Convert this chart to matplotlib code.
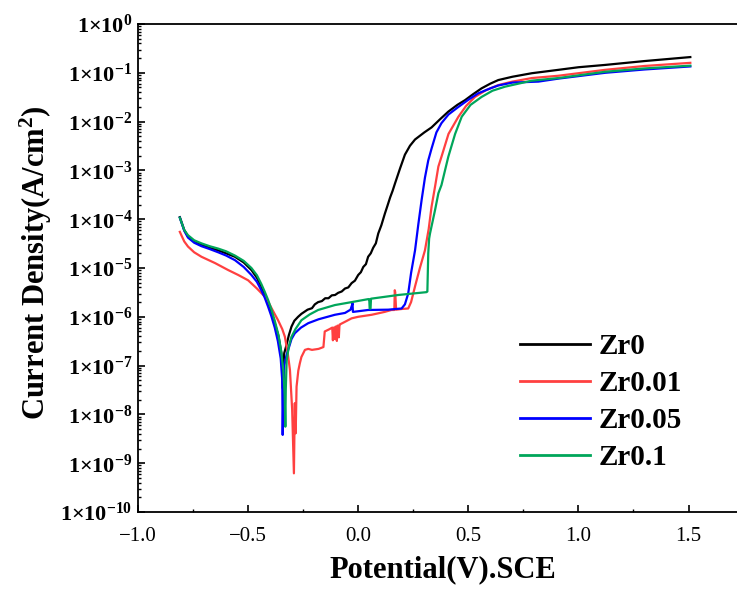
import matplotlib
matplotlib.use("Agg")
import math
import matplotlib.pyplot as plt
from matplotlib.ticker import MultipleLocator, LogLocator, FuncFormatter, NullFormatter

# ---------------- data (potential V vs SCE, current density A/cm^2) ----------------
series_names = ["Zr0", "Zr0.01", "Zr0.05", "Zr0.1"]
series_colors = ["#000000", "#FF4040", "#0000FF", "#00A65A"]

zr0_E = [-0.810, -0.790, -0.773, -0.745, -0.712, -0.675, -0.636, -0.600, -0.560, -0.520,
         -0.485, -0.460, -0.440, -0.425, -0.409, -0.395, -0.379, -0.362, -0.349, -0.345,
         -0.342, -0.340, -0.336, -0.326, -0.315, -0.303, -0.290, -0.273, -0.258, -0.230,
         -0.210, -0.197, -0.182, -0.165, -0.150, -0.135, -0.120, -0.105, -0.091, -0.075,
         -0.060, -0.045, -0.030, -0.015, 0.000, 0.012, 0.023, 0.035, 0.045, 0.057, 0.068,
         0.080, 0.091, 0.105, 0.121, 0.133, 0.145, 0.156, 0.167, 0.190, 0.212, 0.235, 0.258,
         0.300, 0.333, 0.370, 0.409, 0.450, 0.485, 0.520, 0.560, 0.600, 0.636, 0.700, 0.788,
         0.909, 1.000, 1.121, 1.300, 1.508]
zr0_i = [1.1e-4, 6.0e-5, 4.4e-5, 3.5e-5, 3.0e-5, 2.6e-5, 2.3e-5, 2.0e-5, 1.7e-5, 1.3e-5,
         9.1e-6, 6.3e-6, 4.2e-6, 2.8e-6, 1.9e-6, 1.26e-6, 7.4e-7, 4.0e-7, 1.8e-7, 7.9e-8,
         3.4e-8, 1.0e-7, 1.8e-7, 2.6e-7, 4.2e-7, 6.3e-7, 8.3e-7, 1.0e-6, 1.15e-6, 1.4e-6,
         1.5e-6, 1.8e-6, 2.0e-6, 2.1e-6, 2.4e-6, 2.4e-6, 2.75e-6, 2.8e-6, 3.1e-6, 3.3e-6,
         3.8e-6, 4.0e-6, 4.9e-6, 5.5e-6, 7.2e-6, 8.2e-6, 1.05e-5, 1.2e-5, 1.7e-5, 2.0e-5, 2.6e-5,
         3.2e-5, 5.1e-5, 7.5e-5, 1.3e-4, 1.9e-4, 2.8e-4, 3.8e-4, 5.4e-4, 1.1e-3, 2.1e-3, 3.2e-3, 4.3e-3,
         6.0e-3, 7.6e-3, 1.1e-2, 1.6e-2, 2.2e-2, 2.75e-2, 3.6e-2, 4.8e-2, 6.0e-2, 7.1e-2, 8.3e-2, 9.8e-2,
         1.15e-1, 1.3e-1, 1.45e-1, 1.74e-1, 2.1e-1]

zr001_E = [-0.810, -0.790, -0.773, -0.745, -0.712, -0.650, -0.591, -0.545, -0.500, -0.460,
           -0.417, -0.390, -0.364, -0.345, -0.333, -0.320, -0.310, -0.300, -0.292, -0.288,
           -0.284, -0.280, -0.272, -0.265, -0.258, -0.242, -0.227, -0.210, -0.180, -0.158,
           -0.152, -0.130, -0.118, -0.115, -0.112, -0.106, -0.103, -0.097, -0.094, -0.088,
           -0.085, -0.080, -0.060, -0.030, 0.000, 0.061, 0.120, 0.151, 0.164, 0.166, 0.168,
           0.172, 0.200, 0.227, 0.240, 0.258, 0.280, 0.303, 0.320, 0.333, 0.350, 0.364, 0.378,
           0.410, 0.455, 0.490, 0.530, 0.580, 0.636, 0.700, 0.788, 0.909, 1.121, 1.300, 1.508]
zr001_i = [5.5e-5, 3.5e-5, 2.75e-5, 2.1e-5, 1.7e-5, 1.26e-5, 9.1e-6, 7.2e-6, 5.6e-6, 3.8e-6,
           2.4e-6, 1.4e-6, 8.5e-7, 5.6e-7, 3.9e-7, 1.8e-7, 8.1e-8, 1.26e-8, 6.2e-10, 1.7e-8,
           4.1e-9, 3.7e-8, 7.9e-8, 1.12e-7, 1.5e-7, 2.1e-7, 2.2e-7, 2.1e-7, 2.2e-7, 2.4e-7,
           5.0e-7, 5.6e-7, 6.0e-7, 3.3e-7, 6.0e-7, 3.5e-7, 6.3e-7, 3.2e-7, 6.6e-7, 3.8e-7,
           6.9e-7, 7.1e-7, 7.9e-7, 9.3e-7, 1.0e-6, 1.1e-6, 1.26e-6, 1.38e-6, 1.38e-6, 3.5e-6, 3.2e-6,
           1.4e-6, 1.45e-6, 1.48e-6, 2.0e-6, 4.2e-6, 1.0e-5, 2.3e-5, 6.3e-5, 1.8e-4, 5.0e-4, 1.2e-3, 1.9e-3,
           5.6e-3, 1.26e-2, 2.1e-2, 3.2e-2, 4.4e-2, 5.6e-2, 6.6e-2, 7.8e-2, 8.7e-2, 1.15e-1, 1.38e-1, 1.6e-1]

zr005_E = [-0.810, -0.790, -0.773, -0.745, -0.712, -0.675, -0.636, -0.600, -0.560, -0.520,
           -0.485, -0.460, -0.440, -0.425, -0.409, -0.395, -0.379, -0.365, -0.352, -0.345,
           -0.343, -0.340, -0.336, -0.326, -0.318, -0.303, -0.288, -0.260, -0.227, -0.180,
           -0.106, -0.060, -0.035, -0.028, -0.026, -0.024, 0.000, 0.045, 0.136, 0.197, 0.212,
           0.227, 0.240, 0.258, 0.273, 0.288, 0.303, 0.318, 0.333, 0.355, 0.378, 0.410, 0.455,
           0.500, 0.545, 0.600, 0.636, 0.700, 0.818, 0.909, 1.121, 1.300, 1.508]
zr005_i = [1.07e-4, 5.8e-5, 4.2e-5, 3.3e-5, 2.8e-5, 2.45e-5, 2.1e-5, 1.8e-5, 1.45e-5, 1.05e-5,
           7.2e-6, 5.2e-6, 3.5e-6, 2.5e-6, 1.6e-6, 1.05e-6, 6.0e-7, 3.2e-7, 1.4e-7, 5.0e-8,
           3.8e-9, 2.5e-8, 1.0e-7, 1.6e-7, 2.1e-7, 3.5e-7, 4.6e-7, 6.0e-7, 7.4e-7, 8.9e-7,
           1.1e-6, 1.2e-6, 1.4e-6, 1.74e-6, 1.9e-6, 1.26e-6, 1.3e-6, 1.38e-6, 1.4e-6, 1.48e-6, 1.8e-6,
           3.0e-6, 7.9e-6, 2.3e-5, 7.9e-5, 2.5e-4, 7.1e-4, 1.6e-3, 2.8e-3, 6.0e-3, 9.3e-3, 1.4e-2, 2.0e-2,
           2.8e-2, 3.8e-2, 4.8e-2, 5.5e-2, 6.3e-2, 6.6e-2, 7.6e-2, 1.0e-1, 1.17e-1, 1.35e-1]

zr01_E = [-0.810, -0.790, -0.773, -0.745, -0.712, -0.675, -0.636, -0.600, -0.560, -0.520,
          -0.485, -0.460, -0.440, -0.425, -0.409, -0.395, -0.379, -0.362, -0.350, -0.340,
          -0.334, -0.331, -0.329, -0.325, -0.315, -0.303, -0.285, -0.258, -0.220, -0.182,
          -0.106, -0.030, 0.045, 0.050, 0.052, 0.056, 0.058, 0.182, 0.310, 0.314, 0.318,
          0.322, 0.326, 0.349, 0.364, 0.378, 0.409, 0.440, 0.470, 0.510, 0.560, 0.610, 0.667,
          0.788, 0.909, 1.121, 1.300, 1.508]
zr01_i = [1.07e-4, 6.0e-5, 4.7e-5, 3.7e-5, 3.2e-5, 2.8e-5, 2.5e-5, 2.2e-5, 1.8e-5, 1.4e-5,
          1.0e-5, 7.1e-6, 4.7e-6, 3.3e-6, 2.2e-6, 1.45e-6, 8.3e-7, 4.2e-7, 2.0e-7, 7.9e-8,
          2.5e-8, 5.6e-9, 3.2e-8, 1.26e-7, 2.5e-7, 3.9e-7, 5.6e-7, 8.5e-7, 1.12e-6, 1.38e-6,
          1.74e-6, 2.0e-6, 2.3e-6, 2.3e-6, 1.48e-6, 1.48e-6, 2.35e-6, 2.8e-6, 3.2e-6, 3.3e-6, 2.0e-5,
          4.0e-5, 5.1e-5, 1.55e-4, 3.4e-4, 5.0e-4, 1.9e-3, 5.6e-3, 1.26e-2, 2.2e-2, 3.2e-2, 4.3e-2, 5.2e-2,
          6.9e-2, 7.8e-2, 1.05e-1, 1.23e-1, 1.4e-1]

series_E = [zr0_E, zr001_E, zr005_E, zr01_E]
series_i = [zr0_i, zr001_i, zr005_i, zr01_i]

x_ticks = [-1.0, -0.5, 0.0, 0.5, 1.0, 1.5]
x_tick_labels = ["\u22121.0", "\u22120.5", "0.0", "0.5", "1.0", "1.5"]

# ---------------- style ----------------
plt.rcParams["font.family"] = ["Liberation Serif", "DejaVu Serif"]
plt.rcParams["mathtext.fontset"] = "custom"
plt.rcParams["mathtext.rm"] = "Liberation Serif"
plt.rcParams["mathtext.it"] = "Liberation Serif:italic"
plt.rcParams["mathtext.bf"] = "Liberation Serif:bold"

fig = plt.figure(figsize=(7.37, 5.90), dpi=100)
ax = fig.add_axes([138 / 737, 1 - 512 / 590, 599 / 737, 488 / 590])

for E, i, name, c in zip(series_E, series_i, series_names, series_colors):
    ax.plot(E, i, color=c, lw=1.6, label=name, solid_joinstyle="round")

ax.set_yscale("log")
ax.set_ylim(1e-10, 1e0)
ax.set_xlim(-1.0, 1.72)

ax.set_xticks(x_ticks)
ax.set_xticklabels(x_tick_labels, fontsize=15)
ax.xaxis.set_minor_locator(MultipleLocator(0.25))

ax.yaxis.set_major_locator(LogLocator(base=10, numticks=20))
ax.yaxis.set_minor_locator(LogLocator(base=10, subs=[2, 3, 4, 5, 6, 7, 8, 9], numticks=20))
ax.yaxis.set_minor_formatter(NullFormatter())


def yfmt(v, pos):
    e = int(round(math.log10(v)))
    if e == 0:
        return r"$\mathbf{1{\times}10^{0}}$"
    return r"$\mathbf{1{\times}10^{-%d}}$" % (-e)


ax.yaxis.set_major_formatter(FuncFormatter(yfmt))
ax.tick_params(axis="y", which="major", labelsize=16)

ax.tick_params(which="major", direction="in", length=5, width=1.2)
ax.tick_params(which="minor", direction="in", length=2.5, width=1.0)
ax.tick_params(axis="x", pad=11)
ax.tick_params(axis="y", pad=4)

for s in ["left", "bottom", "top"]:
    ax.spines[s].set_linewidth(1.3)
ax.spines["right"].set_visible(False)

ax.set_xlabel("Potential(V).SCE", fontsize=22, fontweight="bold", va="center")
ax.xaxis.set_label_coords((443 - 138) / 599, (512 - 570) / 488)
ax.set_ylabel(r"Current Density(A/cm$^\mathbf{2}$)", fontsize=22, fontweight="bold",
              va="center")
ax.yaxis.set_label_coords((36 - 138) / 599, (512 - 263) / 488)

leg = ax.legend(loc="center left", bbox_to_anchor=(520 / 737, 1 - 402 / 590),
                bbox_transform=fig.transFigure, frameon=False,
                prop={"family": "Liberation Serif", "weight": "bold", "size": 21},
                handlelength=2.4, handletextpad=0.3, labelspacing=0.34,
                borderpad=0, borderaxespad=0)
for line in leg.get_lines():
    line.set_linewidth(2.0)

fig.savefig("out.png", dpi=100)
